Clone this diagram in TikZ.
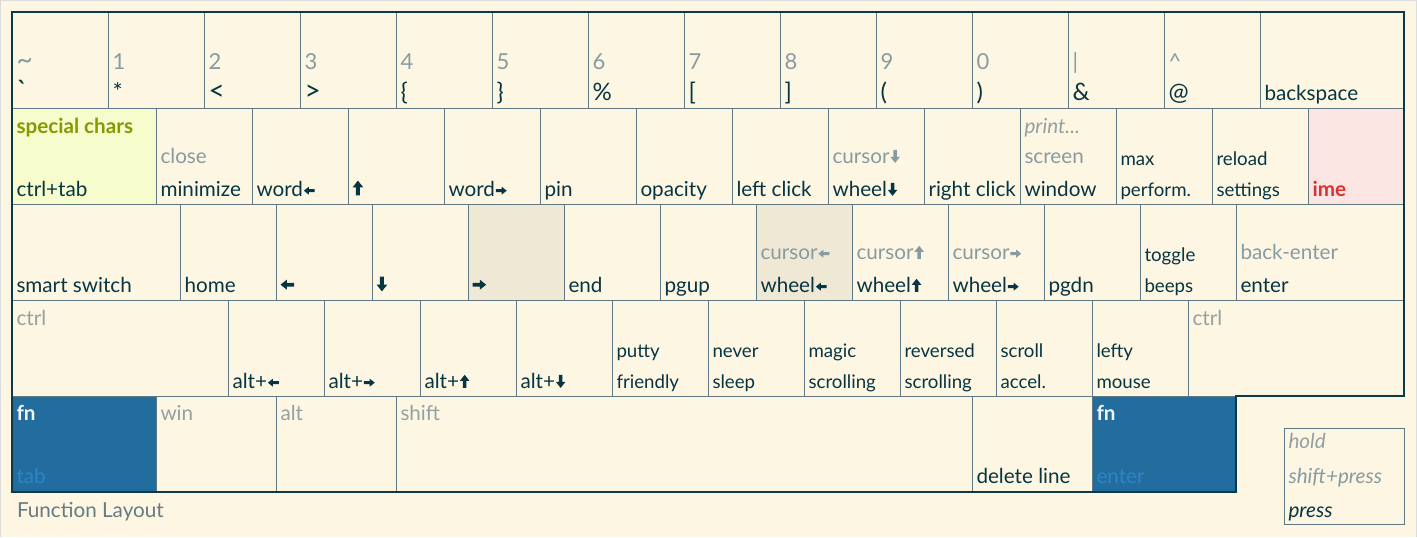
\documentclass[tikz,border=0pt]{standalone}
\usepackage{fontspec}
\setmainfont{Lato}
\definecolor{bg}{HTML}{FDF6E3}
\definecolor{keyline}{HTML}{5E7885}
\definecolor{border}{HTML}{0E3A48}
\definecolor{txt}{HTML}{073642}
\definecolor{holdc}{HTML}{93A1A1}
\definecolor{shiftc}{HTML}{879BA3}
\definecolor{greenc}{HTML}{859900}
\definecolor{greenfill}{HTML}{F6FCCB}
\definecolor{redc}{HTML}{DC322F}
\definecolor{redfill}{HTML}{FBE5E2}
\definecolor{shade}{HTML}{EEE8D5}
\definecolor{fnfill}{HTML}{226C9E}
\definecolor{fntxt}{HTML}{F0F6FA}
\definecolor{fnsub}{HTML}{2A86CA}
\definecolor{titlec}{HTML}{657B83}
\definecolor{framec}{HTML}{DCDCDC}
\newcommand\karr[3]{\tikz[baseline={(0pt,-#3)}]\fill[rotate=#1,scale=#2] (-4.1pt,-1.1pt) -- (0.3pt,-1.1pt) -- (0.3pt,-3pt) -- (4.1pt,0pt) -- (0.3pt,3pt) -- (0.3pt,1.1pt) -- (-4.1pt,1.1pt) -- cycle;}
\newcommand\aL{\kern0.6pt\karr{180}{1}{4pt}}
\newcommand\aR{\kern0.6pt\karr{0}{1}{4pt}}
\newcommand\aU{\kern0.6pt\karr{90}{1.2}{5pt}}
\newcommand\aD{\kern0.6pt\karr{-90}{1.2}{5pt}}
\newcommand\bL{\karr{180}{1.25}{5.5pt}}
\newcommand\bR{\karr{0}{1.25}{5.5pt}}
\newcommand\bU{\karr{90}{1.35}{6pt}}
\newcommand\bD{\karr{-90}{1.35}{6pt}}
\newcommand\kk[5][]{\node[keybox,#1,minimum width={(#4-#3)*0.75pt}] (#2) at ({(#3+#4)/2},{#5+48}) {};}
\newcommand\lb[5][]{\node[lab,#1] (#2) at ({#3+4.5},#4) {#5};}
\tikzset{
  keybox/.style={draw=keyline, line width=0.75pt, fill=bg, inner sep=0pt, outer sep=0pt, minimum height=72pt},
  lab/.style={anchor=base west, inner sep=0pt, outer sep=0pt, text=txt, font=\fontsize{15.5}{18}\selectfont},
  big/.style={font=\fontsize{16.5}{18}\selectfont},
  sym/.style={font=\fontsize{18}{20}\selectfont},
  symx/.style={font=\fontsize{21}{22}\selectfont},
  sm/.style={font=\fontsize{14}{16}\selectfont},
  hold/.style={text=holdc},
  shf/.style={text=shiftc},
  fnkey/.style={fill=fnfill},
  bold/.style={font=\fontsize{15.5}{18}\selectfont\bfseries}
}
\begin{document}
\begin{tikzpicture}[x=0.75pt,y=-0.75pt]
\useasboundingbox (0,0) rectangle (1417,537);
\fill[bg] (0,0) rectangle (1417,537);
\draw[framec, line width=1.5pt] (0,537) -- (0,0) -- (1417,0) -- (1417,537);
% ---------- row 1
\kk{kgrave}{12}{108}{12}
\kk{kone}{108}{204}{12}
\kk{ktwo}{204}{300}{12}
\kk{kthree}{300}{396}{12}
\kk{kfour}{396}{492}{12}
\kk{kfive}{492}{588}{12}
\kk{ksix}{588}{684}{12}
\kk{kseven}{684}{780}{12}
\kk{keight}{780}{876}{12}
\kk{knine}{876}{972}{12}
\kk{kzero}{972}{1068}{12}
\kk{kbar}{1068}{1164}{12}
\kk{kcirc}{1164}{1260}{12}
\kk{kbs}{1260}{1404}{12}
% ---------- row 2
\kk[fill=greenfill]{kspc}{12}{156}{108}
\kk{kmin}{156}{252}{108}
\kk{kwl}{252}{348}{108}
\kk{kup}{348}{444}{108}
\kk{kwr}{444}{540}{108}
\kk{kpin}{540}{636}{108}
\kk{kopa}{636}{732}{108}
\kk{klc}{732}{828}{108}
\kk{kwd}{828}{924}{108}
\kk{krc}{924}{1020}{108}
\kk{kprt}{1020}{1116}{108}
\kk{kmax}{1116}{1212}{108}
\kk{krel}{1212}{1308}{108}
\kk[fill=redfill]{kime}{1308}{1404}{108}
% ---------- row 3
\kk{kss}{12}{180}{204}
\kk{khome}{180}{276}{204}
\kk{kleft}{276}{372}{204}
\kk{kdown}{372}{468}{204}
\kk[fill=shade]{kright}{468}{564}{204}
\kk{kend}{564}{660}{204}
\kk{kpgup}{660}{756}{204}
\kk[fill=shade]{kwhl}{756}{852}{204}
\kk{kwhu}{852}{948}{204}
\kk{kwhr}{948}{1044}{204}
\kk{kpgdn}{1044}{1140}{204}
\kk{kbeep}{1140}{1236}{204}
\kk{kent}{1236}{1404}{204}
% ---------- row 4
\kk{kctl}{12}{228}{300}
\kk{kal}{228}{324}{300}
\kk{kar}{324}{420}{300}
\kk{kau}{420}{516}{300}
\kk{kad}{516}{612}{300}
\kk{kput}{612}{708}{300}
\kk{knev}{708}{804}{300}
\kk{kmag}{804}{900}{300}
\kk{krev}{900}{996}{300}
\kk{kscr}{996}{1092}{300}
\kk{klef}{1092}{1188}{300}
\kk{kctr}{1188}{1404}{300}
% ---------- row 5
\kk[fnkey]{kfn}{12}{156}{396}
\kk{kwin}{156}{276}{396}
\kk{kalt}{276}{396}{396}
\kk{kshf}{396}{972}{396}
\kk{kdel}{972}{1092}{396}
\kk[fnkey]{kfnb}{1092}{1236}{396}
% outer border
\draw[border, line width=1.2pt] (12,12) -- (1404,12) -- (1404,396) -- (1236,396) -- (1236,492) -- (12,492) -- cycle;
% ---------- labels row 1
\lb[shf,symx]{sgrave}{12}{69}{\textasciitilde}
\lb[symx]{pgrave}{12}{100}{\textasciigrave}
\lb[shf,big]{sone}{108}{69}{1}
\lb[sym]{pone}{108}{100}{*}
\lb[shf,big]{stwo}{204}{69}{2}
\lb[symx]{ptwo}{204}{100}{<}
\lb[shf,big]{sthree}{300}{69}{3}
\lb[symx]{pthree}{300}{100}{>}
\lb[shf,big]{sfour}{396}{69}{4}
\lb[sym]{pfour}{396}{100}{\{}
\lb[shf,big]{sfive}{492}{69}{5}
\lb[sym]{pfive}{492}{100}{\}}
\lb[shf,big]{ssix}{588}{69}{6}
\lb[sym]{psix}{588}{100}{\%}
\lb[shf,big]{sseven}{684}{69}{7}
\lb[sym]{pseven}{684}{100}{[}
\lb[shf,big]{seight}{780}{69}{8}
\lb[sym]{peight}{780}{100}{]}
\lb[shf,big]{snine}{876}{69}{9}
\lb[sym]{pnine}{876}{100}{(}
\lb[shf,big]{szero}{972}{69}{0}
\lb[sym]{pzero}{972}{100}{)}
\lb[shf,big]{sbar}{1068}{69}{\textbar}
\lb[sym]{pbar}{1068}{100}{\&}
\lb[shf,big]{scirc}{1164}{69}{\textasciicircum}
\lb[sym]{pcirc}{1164}{100}{@}
\lb{pbs}{1260}{100}{backspace}
% ---------- labels row 2
\lb[bold,text=greenc]{hspc}{12}{133}{special chars}
\lb{pspc}{12}{196}{ctrl+tab}
\lb[shf]{smin}{156}{163}{close}
\lb{pmin}{156}{196}{minimize}
\lb{pwl}{252}{196}{word\aL}
\lb{pup}{348}{196}{\bU}
\lb{pwr}{444}{196}{word\aR}
\lb{ppin}{540}{196}{pin}
\lb{popa}{636}{196}{opacity}
\lb{plc}{732}{196}{left click}
\lb[shf]{swd}{828}{163}{cursor\aD}
\lb{pwd}{828}{196}{wheel\aD}
\lb{prc}{924}{196}{right click}
\lb[hold]{hprt}{1020}{133}{\itshape print...}
\lb[shf]{sprt}{1020}{163}{screen}
\lb{pprt}{1020}{196}{window}
\lb[sm]{smax}{1116}{165}{max}
\lb[sm]{pmax}{1116}{196}{perform.}
\lb[sm]{srel}{1212}{165}{reload}
\lb[sm]{prel}{1212}{196}{settings}
\lb[bold,text=redc]{pime}{1308}{196}{ime}
% ---------- labels row 3
\lb{pss}{12}{292}{smart switch}
\lb{phome}{180}{292}{home}
\lb{pleft}{276}{292}{\bL}
\lb{pdown}{372}{292}{\bD}
\lb{pright}{468}{292}{\bR}
\lb{pend}{564}{292}{end}
\lb{ppgup}{660}{292}{pgup}
\lb[shf]{swhl}{756}{259}{cursor\aL}
\lb{pwhl}{756}{292}{wheel\aL}
\lb[shf]{swhu}{852}{259}{cursor\aU}
\lb{pwhu}{852}{292}{wheel\aU}
\lb[shf]{swhr}{948}{259}{cursor\aR}
\lb{pwhr}{948}{292}{wheel\aR}
\lb{ppgdn}{1044}{292}{pgdn}
\lb[sm]{sbeep}{1140}{261}{toggle}
\lb[sm]{pbeep}{1140}{292}{beeps}
\lb[shf]{sent}{1236}{259}{back-enter}
\lb{pent}{1236}{292}{enter}
% ---------- labels row 4
\lb[hold]{hctl}{12}{325}{ctrl}
\lb{pal}{228}{388}{alt+\aL}
\lb{par}{324}{388}{alt+\aR}
\lb{pau}{420}{388}{alt+\aU}
\lb{pad}{516}{388}{alt+\aD}
\lb[sm]{sput}{612}{357}{putty}
\lb[sm]{pput}{612}{388}{friendly}
\lb[sm]{snev}{708}{357}{never}
\lb[sm]{pnev}{708}{388}{sleep}
\lb[sm]{smag}{804}{357}{magic}
\lb[sm]{pmag}{804}{388}{scrolling}
\lb[sm]{srev}{900}{357}{reversed}
\lb[sm]{prev}{900}{388}{scrolling}
\lb[sm]{sscr}{996}{357}{scroll}
\lb[sm]{pscr}{996}{388}{accel.}
\lb[sm]{slef}{1092}{357}{lefty}
\lb[sm]{plef}{1092}{388}{mouse}
\lb[hold]{hctr}{1188}{325}{ctrl}
% ---------- labels row 5
\lb[bold,text=fntxt]{hfn}{12}{420}{fn}
\lb[text=fnsub]{pfn}{12}{483}{tab}
\lb[hold]{hwin}{156}{420}{win}
\lb[hold]{halt}{276}{420}{alt}
\lb[hold]{hshf}{396}{420}{shift}
\lb{pdel}{972}{483}{delete line}
\lb[bold,text=fntxt]{hfnb}{1092}{420}{fn}
\lb[text=fnsub]{pfnb}{1092}{483}{enter}
% ---------- legend and title
\node[draw=keyline, line width=0.75pt, inner sep=0pt, minimum width=90pt, minimum height=72pt] (legend) at (1344,476) {};
\lb[hold]{lhold}{1284}{448}{\itshape hold}
\lb[shf]{lshift}{1284}{483}{\itshape shift+press}
\lb{lpress}{1284}{517}{\itshape press}
\node[lab, text=titlec] (title) at (17,517) {Function Layout};
\end{tikzpicture}
\end{document}
